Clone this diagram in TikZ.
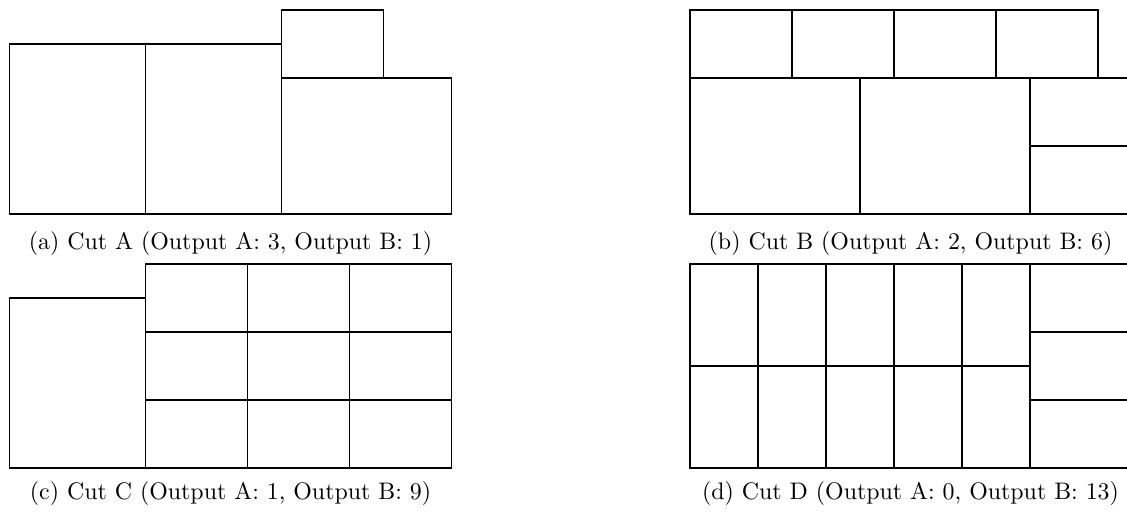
\documentclass[tikz,border=0pt]{standalone}
\usetikzlibrary{positioning}
\tikzset{
  piece/.style={thick,fill=white},
  cutcaption/.style={anchor=base,inner sep=0pt}
}
\begin{document}
\begin{tikzpicture}
  \useasboundingbox (0,0) rectangle (16.574,-7.544);
  % (a)
  \begin{scope}[shift={(0.14,-3.147)},x=0.5cm,y=0.5cm]
    \draw[piece] (0,0) rectangle ++(4,5);
    \draw[piece] (4,0) rectangle ++(4,5);
    \draw[piece] (8,0) rectangle ++(5,4);
    \draw[piece] (8,4) rectangle ++(3,2);
  \end{scope}
  \node[cutcaption] (capa) at (3.39,-3.67) {(a) Cut A (Output A: 3, Output B: 1)};
  % (b)
  \begin{scope}[shift={(10.143,-3.147)},x=0.5cm,y=0.5cm]
    \foreach \i in {0,...,3}
      \draw[piece] (3*\i,4) rectangle ++(3,2);
    \draw[piece] (0,0) rectangle ++(5,4);
    \draw[piece] (5,0) rectangle ++(5,4);
    \draw[piece] (10,0) rectangle ++(3,2);
    \draw[piece] (10,2) rectangle ++(3,2);
  \end{scope}
  \node[cutcaption] (capb) at (13.39,-3.67) {(b) Cut B (Output A: 2, Output B: 6)};
  % (c)
  \begin{scope}[shift={(0.14,-6.882)},x=0.5cm,y=0.5cm]
    \draw[piece] (0,0) rectangle ++(4,5);
    \foreach \i in {0,1,2}
      \foreach \j in {0,1,2}
        \draw[piece] (4+3*\i,2*\j) rectangle ++(3,2);
  \end{scope}
  \node[cutcaption] (capc) at (3.39,-7.347) {(c) Cut C (Output A: 1, Output B: 9)};
  % (d)
  \begin{scope}[shift={(10.143,-6.882)},x=0.5cm,y=0.5cm]
    \foreach \i in {0,...,4}
      \foreach \j in {0,1}
        \draw[piece] (2*\i,3*\j) rectangle ++(2,3);
    \foreach \j in {0,1,2}
      \draw[piece] (10,2*\j) rectangle ++(3,2);
  \end{scope}
  \node[cutcaption] (capd) at (13.39,-7.347) {(d) Cut D (Output A: 0, Output B: 13)};
\end{tikzpicture}
\end{document}
